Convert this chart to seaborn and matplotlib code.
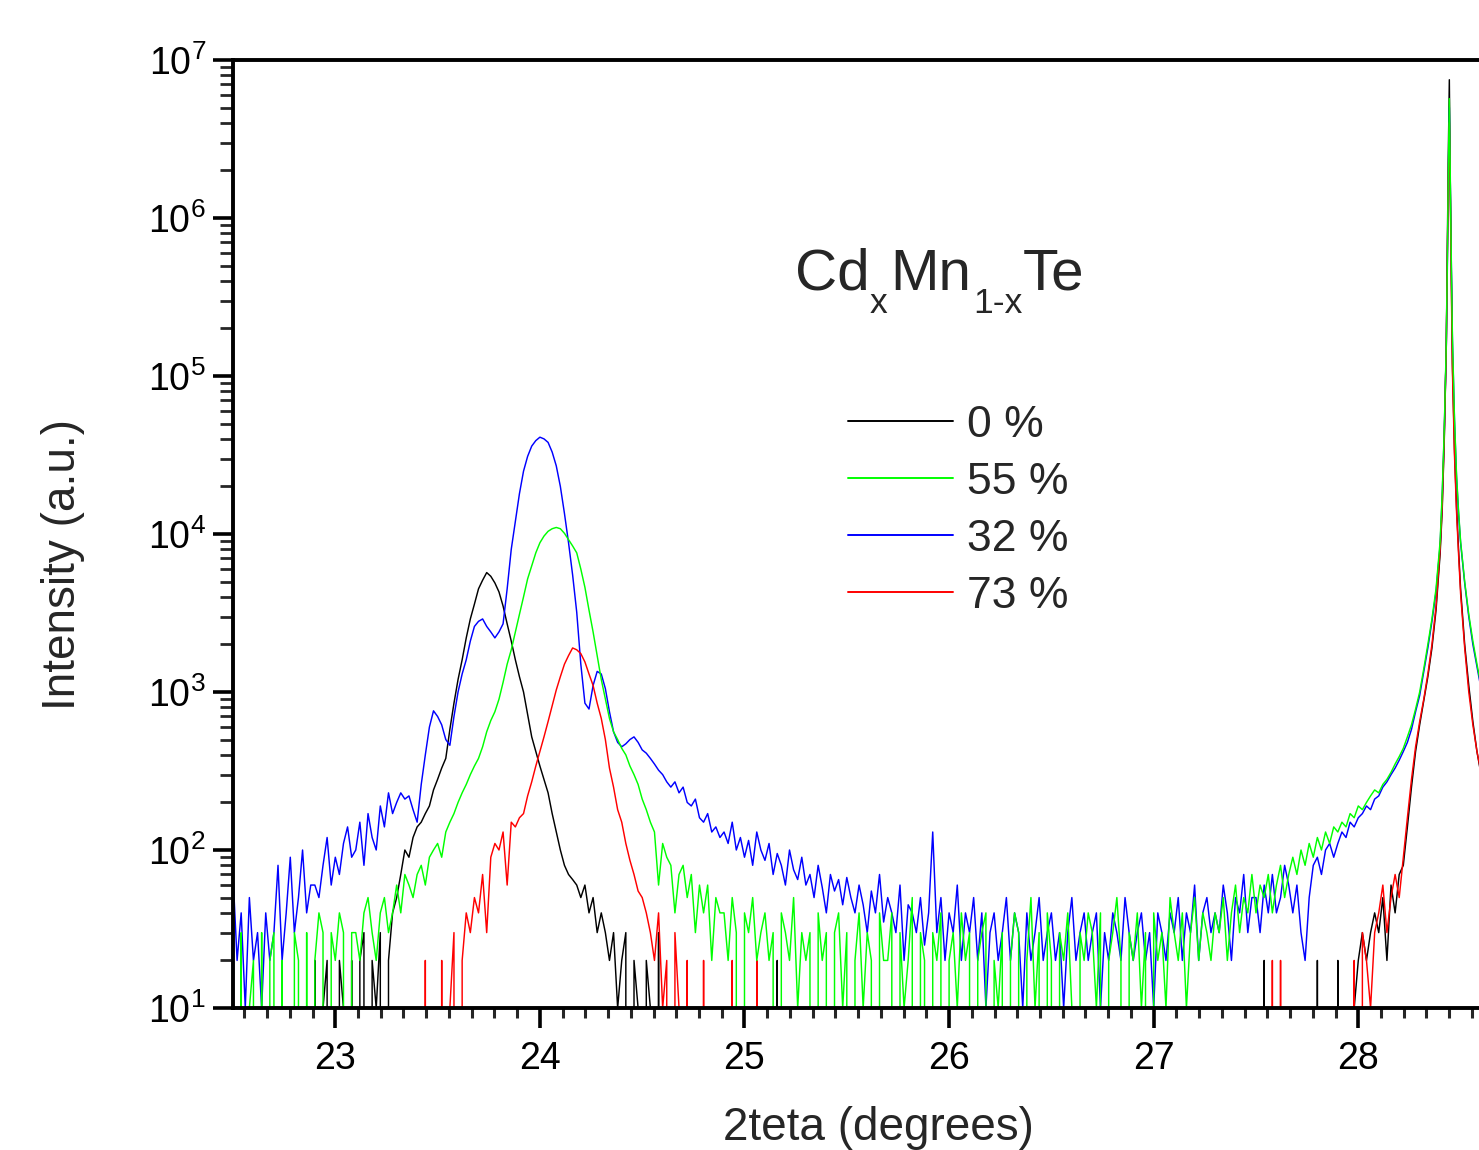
import numpy as np
import pandas as pd
import matplotlib
matplotlib.use("Agg")
import matplotlib.pyplot as plt
import seaborn as sns
from matplotlib.ticker import AutoMinorLocator, LogLocator, NullFormatter, FixedLocator
from matplotlib.lines import Line2D

# ---------------- data ----------------
# scan grid: 22.50 ... 28.40 every 0.02 deg, then a finer grid over the sharp substrate peak
TWO_THETA = list(np.round(22.50 + 0.02 * np.arange(296), 3)) + [
    28.41, 28.42, 28.43, 28.435, 28.44, 28.445, 28.45, 28.455, 28.46, 28.47,
    28.48, 28.49, 28.50, 28.52, 28.54, 28.56, 28.58, 28.60]

I_0 = [  # 0 %  (black)
    0, 0, 10, 0, 0, 0, 10, 0, 0, 0,                               # 22.50
    0, 10, 0, 0, 0, 10, 0, 0, 10, 0,                              # 22.70
    20, 0, 10, 20, 0, 0, 20, 10, 0, 20,                           # 22.90
    0, 20, 30, 0, 20, 10, 30, 0, 20, 40,                          # 23.10
    50, 70, 100, 90, 120, 140, 150, 170, 190, 240,                # 23.30
    280, 330, 380, 580, 850, 1200, 1600, 2200, 2900, 3600,        # 23.50
    4500, 5100, 5700, 5400, 4900, 4300, 3500, 2700, 2100, 1600,   # 23.70
    1250, 1000, 720, 520, 420, 340, 280, 230, 170, 130,           # 23.90
    100, 80, 70, 65, 60, 50, 60, 40, 50, 30,                      # 24.10
    40, 30, 20, 30, 10, 20, 30, 0, 20, 10,                        # 24.30
    0, 20, 10, 0, 30, 0, 0, 10, 0, 0,                             # 24.50
    0, 0, 10, 0, 0, 0, 0, 0, 0, 0,                                # 24.70
    0, 0, 0, 0, 0, 0, 0, 0, 0, 0,                                 # 24.90
    0, 0, 0, 20, 0, 0, 0, 0, 0, 0,                                # 25.10
    0, 0, 0, 0, 0, 0, 0, 0, 10, 0,                                # 25.30
    0, 0, 0, 0, 0, 0, 0, 0, 0, 0,                                 # 25.50
    0, 10, 0, 0, 0, 0, 0, 0, 0, 0,                                # 25.70
    0, 0, 0, 0, 0, 0, 0, 0, 0, 0,                                 # 25.90
    0, 0, 0, 0, 0, 0, 0, 0, 0, 0,                                 # 26.10
    0, 0, 0, 0, 0, 0, 0, 0, 0, 0,                                 # 26.30
    0, 0, 0, 0, 0, 0, 0, 0, 0, 0,                                 # 26.50
    0, 0, 0, 0, 0, 0, 0, 0, 0, 0,                                 # 26.70
    0, 0, 0, 0, 0, 0, 0, 0, 0, 0,                                 # 26.90
    0, 0, 0, 0, 0, 0, 0, 0, 0, 0,                                 # 27.10
    0, 0, 0, 0, 0, 0, 0, 0, 0, 0,                                 # 27.30
    0, 0, 20, 0, 0, 0, 0, 0, 0, 0,                                # 27.50
    0, 0, 0, 0, 0, 20, 0, 0, 0, 0,                                # 27.70
    20, 0, 0, 0, 10, 20, 30, 20, 30, 40,                          # 27.90
    30, 50, 20, 60, 40, 70, 80, 140, 250, 420,                    # 28.10
    620, 880, 1250, 1900, 3300, 7500,                             # 28.30
    14000, 38000, 150000, 600000, 2500000, 7500000, 1500000, 400000, 120000,
    35000, 15000, 8000, 4500, 2000, 1100, 650, 420, 300]

I_55 = [  # 55 % (green)
    20, 0, 30, 0, 10, 20, 0, 30, 0, 20,
    30, 0, 20, 0, 0, 30, 20, 0, 30, 0,
    20, 40, 30, 0, 30, 20, 40, 30, 0, 30,
    30, 20, 40, 50, 30, 20, 40, 50, 30, 40,
    60, 40, 70, 60, 50, 70, 80, 60, 90, 100,
    110, 90, 130, 150, 170, 200, 230, 260, 300, 340,
    380, 450, 560, 660, 750, 900, 1150, 1500, 1850, 2400,
    3100, 4000, 5200, 6300, 7600, 8800, 9700, 10400, 10800, 11000,
    10800, 10100, 9200, 8400, 7600, 6000, 4600, 3300, 2400, 1700,
    1200, 900, 680, 560, 500, 440, 400, 340, 300, 260,
    210, 180, 150, 130, 60, 110, 90, 80, 40, 70,
    80, 50, 70, 30, 60, 40, 60, 20, 50, 40,
    40, 20, 50, 30, 0, 40, 30, 50, 20, 30,
    40, 20, 30, 0, 40, 30, 20, 50, 10, 30,
    20, 30, 0, 40, 20, 30, 0, 30, 40, 10,
    30, 0, 20, 40, 10, 30, 20, 0, 40, 20,
    20, 40, 0, 30, 10, 20, 50, 0, 30, 20,
    0, 30, 20, 40, 0, 20, 30, 10, 40, 20,
    30, 0, 20, 30, 40, 0, 20, 10, 30, 0,
    20, 40, 30, 0, 20, 50, 10, 30, 0, 40,
    20, 0, 30, 20, 40, 10, 0, 30, 20, 40,
    30, 10, 40, 0, 20, 30, 50, 20, 0, 30,
    20, 40, 10, 30, 0, 40, 20, 30, 10, 50,
    30, 20, 40, 10, 30, 50, 20, 40, 30, 20,
    40, 30, 50, 20, 40, 60, 30, 50, 40, 70,
    40, 60, 50, 70, 40, 60, 80, 50, 70, 90,
    70, 100, 80, 110, 90, 120, 100, 130, 110, 140,
    130, 150, 140, 170, 160, 190, 180, 200, 220, 240,
    230, 260, 280, 310, 350, 390, 440, 520, 620, 780,
    1000, 1400, 2000, 2900, 4500, 9000,
    18000, 45000, 160000, 500000, 2000000, 5700000, 1600000, 500000, 180000,
    55000, 24000, 14000, 9000, 5000, 3100, 2100, 1500, 1100]

I_32 = [  # 32 % (blue)
    70, 20, 40, 10, 50, 20, 30, 10, 40, 20,
    30, 80, 20, 40, 90, 30, 50, 100, 40, 60,
    60, 50, 80, 120, 60, 90, 70, 110, 140, 90,
    100, 150, 80, 170, 120, 100, 190, 140, 230, 170,
    200, 230, 210, 220, 180, 150, 260, 400, 600, 760,
    700, 620, 500, 460, 700, 1000, 1300, 1600, 2100, 2600,
    2800, 2900, 2600, 2400, 2200, 2400, 2700, 4500, 8000, 12000,
    18000, 25000, 31000, 36000, 39000, 41000, 40000, 38000, 33000, 27000,
    20000, 13500, 8800, 5500, 3200, 1500, 850, 780, 1100, 1350,
    1300, 1050, 750, 560, 480, 450, 470, 500, 520, 480,
    430, 410, 380, 350, 320, 300, 270, 250, 270, 230,
    250, 200, 190, 210, 160, 150, 170, 130, 140, 120,
    130, 110, 150, 100, 120, 90, 115, 80, 130, 100,
    86, 110, 70, 95, 80, 60, 100, 75, 65, 90,
    60, 70, 50, 80, 58, 40, 70, 55, 65, 45,
    67, 50, 40, 60, 45, 30, 55, 40, 70, 35,
    50, 40, 30, 60, 20, 45, 40, 30, 50, 25,
    40, 130, 30, 50, 20, 40, 30, 60, 20, 40,
    30, 50, 20, 40, 10, 30, 40, 20, 30, 50,
    20, 40, 30, 10, 40, 20, 30, 50, 20, 30,
    40, 20, 30, 10, 30, 50, 20, 30, 40, 20,
    30, 40, 10, 30, 20, 40, 30, 20, 50, 30,
    20, 30, 40, 20, 30, 10, 40, 30, 20, 40,
    30, 50, 20, 40, 30, 60, 20, 40, 50, 30,
    40, 30, 60, 40, 20, 50, 40, 70, 30, 50,
    50, 30, 60, 40, 70, 40, 50, 80, 60, 40,
    60, 30, 20, 50, 80, 90, 70, 100, 110, 90,
    110, 130, 120, 150, 140, 160, 170, 190, 180, 210,
    220, 250, 270, 300, 330, 370, 420, 480, 580, 750,
    950, 1350, 1900, 2800, 4300, 8500,
    17000, 43000, 150000, 450000, 1800000, 5000000, 1500000, 480000, 170000,
    53000, 23000, 13500, 8800, 4900, 3000, 2000, 1450, 1050]

I_73 = [  # 73 % (red)
    0, 0, 0, 0, 0, 0, 0, 0, 0, 0,
    0, 0, 0, 0, 0, 0, 0, 0, 0, 0,
    0, 0, 0, 0, 0, 0, 0, 0, 0, 0,
    0, 0, 0, 0, 0, 0, 0, 0, 0, 0,
    0, 0, 0, 10, 0, 0, 0, 20, 0, 10,
    0, 20, 0, 10, 30, 0, 20, 40, 30, 50,
    40, 70, 30, 90, 110, 100, 130, 60, 150, 140,
    160, 170, 220, 270, 340, 420, 520, 650, 820, 1030,
    1250, 1500, 1700, 1900, 1850, 1750, 1550, 1300, 1100, 850,
    680, 500, 330, 250, 180, 150, 110, 86, 70, 55,
    50, 40, 30, 20, 40, 10, 20, 0, 30, 10,
    0, 20, 0, 10, 0, 20, 0, 0, 10, 0,
    0, 0, 20, 0, 0, 10, 0, 0, 20, 0,
    0, 0, 0, 0, 0, 0, 0, 0, 0, 0,
    0, 0, 0, 0, 0, 0, 0, 0, 0, 0,
    0, 0, 0, 0, 0, 0, 0, 0, 0, 0,
    0, 0, 0, 0, 0, 0, 0, 0, 0, 0,
    0, 0, 0, 0, 0, 0, 0, 0, 0, 0,
    0, 0, 0, 0, 0, 0, 0, 0, 0, 0,
    0, 0, 0, 0, 0, 0, 0, 0, 0, 0,
    0, 0, 0, 0, 0, 0, 0, 0, 0, 0,
    0, 0, 0, 0, 0, 0, 0, 0, 0, 0,
    0, 0, 0, 0, 0, 0, 0, 0, 0, 0,
    0, 0, 0, 0, 0, 0, 0, 0, 0, 0,
    0, 0, 0, 0, 0, 0, 0, 0, 0, 0,
    0, 0, 0, 0, 20, 0, 20, 0, 0, 0,
    0, 0, 0, 0, 0, 0, 0, 0, 0, 0,
    0, 0, 10, 0, 20, 0, 30, 20, 10, 30,
    40, 60, 30, 50, 70, 50, 90, 160, 280, 450,
    650, 900, 1300, 2000, 3500, 8000,
    15000, 40000, 150000, 500000, 1800000, 4000000, 1300000, 350000, 110000,
    32000, 14000, 7500, 4200, 1900, 1000, 620, 420, 310]

LEGEND_LABELS = ["0 %", "55 %", "32 %", "73 %"]
DRAW_ORDER = ["0 %", "32 %", "73 %", "55 %"]
COLORS = {"0 %": "#000000", "55 %": "#00ff00", "32 %": "#0000ff", "73 %": "#ff0000"}
X_TICKS = [23, 24, 25, 26, 27, 28]
# formula label pieces: (text, is_subscript)
TITLE_PARTS = [("Cd", False), ("x", True), ("Mn", False), ("1-x", True), ("Te", False)]
X_LABEL = "2teta (degrees)"
Y_LABEL = "Intensity (a.u.)"

series = {"0 %": I_0, "55 %": I_55, "32 %": I_32, "73 %": I_73}
for k, v in series.items():
    assert len(v) == len(TWO_THETA), (k, len(v), len(TWO_THETA))

df = pd.concat([pd.DataFrame({"two_theta": TWO_THETA, "intensity": np.asarray(v, float), "sample": k})
                for k, v in series.items()], ignore_index=True)

# ---------------- style ----------------
sns.set_style("ticks")
plt.rcParams["font.family"] = ["Liberation Sans", "DejaVu Sans"]
plt.rcParams["mathtext.fontset"] = "custom"
plt.rcParams["mathtext.rm"] = "Liberation Sans"
plt.rcParams["mathtext.it"] = "Liberation Sans:italic"
plt.rcParams["mathtext.bf"] = "Liberation Sans:bold"

W, H = 1479, 1150
fig = plt.figure(figsize=(W / 100, H / 100), dpi=100)
ax = fig.add_axes([233 / W, 1 - 1008 / H, 1 - 233 / W, (1008 - 60) / H])
ax.set_yscale("log")

sns.lineplot(data=df, x="two_theta", y="intensity", hue="sample", hue_order=DRAW_ORDER,
             palette=COLORS, estimator=None, errorbar=None, sort=False, legend=False,
             linewidth=1.05, ax=ax)

ax.set_xlim(22.5, 28.59)
ax.set_ylim(10, 1e7)

ax.xaxis.set_major_locator(FixedLocator(X_TICKS))
ax.set_xticklabels([str(t) for t in X_TICKS])
ax.xaxis.set_minor_locator(AutoMinorLocator(9))
ax.yaxis.set_major_locator(LogLocator(base=10, numticks=20))
ax.yaxis.set_minor_locator(LogLocator(base=10, subs=np.arange(2, 10), numticks=200))
ax.yaxis.set_minor_formatter(NullFormatter())

ax.tick_params(axis="both", which="major", direction="out", length=14.5, width=2.6,
               labelsize=27, colors="black")
ax.tick_params(axis="x", which="major", pad=9)
ax.tick_params(axis="y", which="major", pad=5)
ax.tick_params(axis="x", which="minor", direction="out", length=7.5, width=2.2)
ax.tick_params(axis="y", which="minor", direction="out", length=9.5, width=2.0)
ax.tick_params(top=False, right=False, which="both")
ax.spines["right"].set_visible(False)
for s in ["left", "bottom", "top"]:
    ax.spines[s].set_linewidth(2.8)
    ax.spines[s].set_color("black")

ax.set_xlabel(X_LABEL, fontsize=33)
ax.set_ylabel(Y_LABEL, fontsize=33)
ax.xaxis.set_label_coords((878 - 233) / 1246, (1008 - 1106) / 948)
ax.yaxis.set_label_coords((85 - 233) / 1246, (1008 - 565) / 948)

# formula label, placed piece by piece (subscripts lowered like the original)
part_x = [795, 870, 890, 973, 1023]
for (txt, sub), px in zip(TITLE_PARTS, part_x):
    base = 313 if sub else 290
    fig.text(px / W, 1 - base / H, txt, fontsize=25.5 if sub else 42,
             ha="left", va="baseline")

handles = [Line2D([], [], color=COLORS[k], lw=1.4) for k in LEGEND_LABELS]
ax.legend(handles, LEGEND_LABELS, loc="upper left", bbox_to_anchor=(848 / W, 1 - 405 / H),
          bbox_transform=fig.transFigure, frameon=False, fontsize=32,
          handlelength=2.36, handletextpad=0.32, labelspacing=0.36,
          borderpad=0, borderaxespad=0)

fig.savefig("out.png", dpi=100)
